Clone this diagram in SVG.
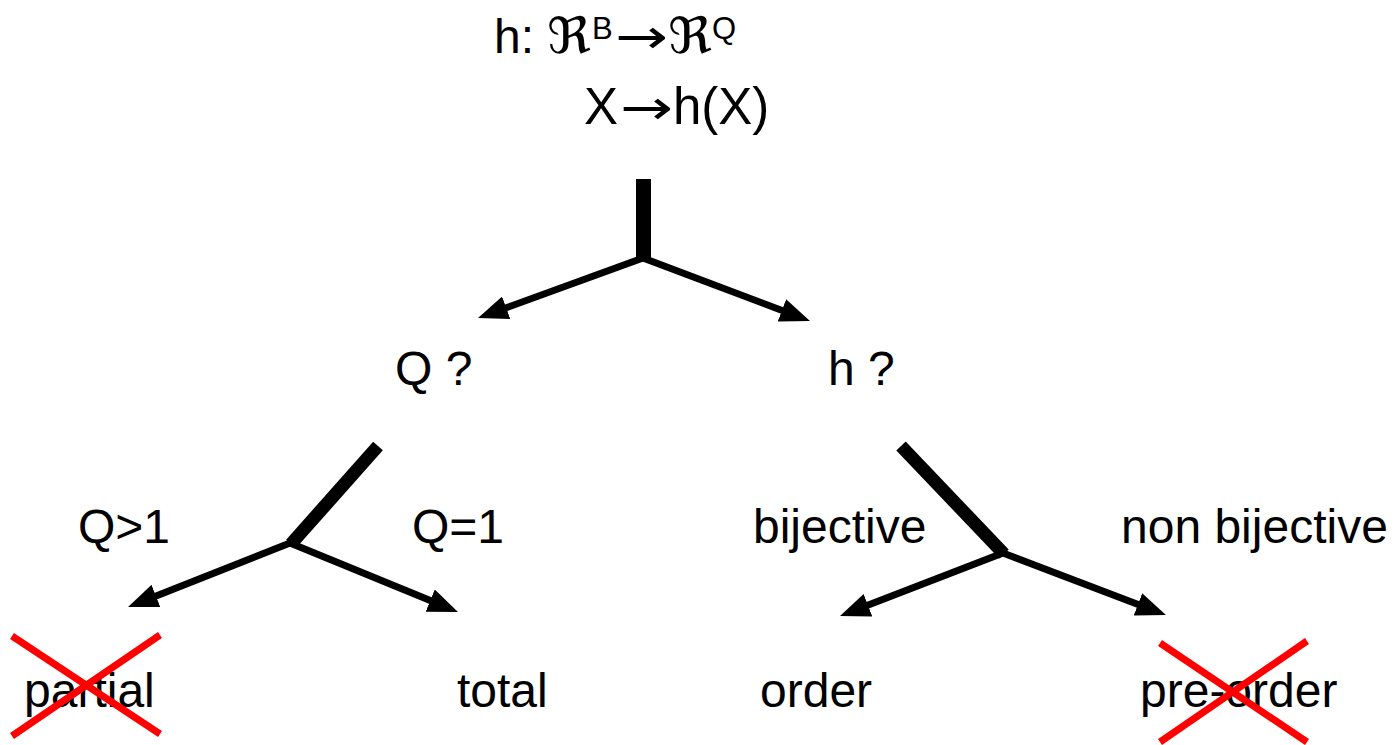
<svg xmlns="http://www.w3.org/2000/svg" width="1398" height="745" viewBox="0 0 1398 745">
<defs>
<style>
.t{font-family:"Liberation Sans",Arial,sans-serif;font-size:48px;fill:#000}
.t2{font-family:"Liberation Sans",Arial,sans-serif;font-size:51px;fill:#000}
.sup{font-family:"Liberation Sans",Arial,sans-serif;font-size:31px;fill:#000}
.frak{font-family:"DejaVu Serif","DejaVu Sans",serif;font-size:50px;fill:#000}
.ar{font-family:"DejaVu Sans",sans-serif;font-size:48px;fill:#000}
.arr{stroke:#000;stroke-width:7;fill:none;marker-end:url(#ah)}
.stem{stroke:#000;fill:none;stroke-linecap:butt}
.x{stroke:#ff0000;stroke-width:7;fill:none}
</style>
<marker id="ah" viewBox="0 0 30 24" markerWidth="30" markerHeight="24" refX="8" refY="12" orient="auto" markerUnits="userSpaceOnUse">
<path d="M0,0 L30,12 L0,24 z" fill="#000"/>
</marker>
</defs>
<g id="root">
<text class="t" x="494" y="53">h:</text>
<text class="frak" x="547" y="53" textLength="44" lengthAdjust="spacingAndGlyphs">ℜ</text>
<text class="sup" x="592" y="39">B</text>
<text class="ar" x="615" y="53" textLength="53" lengthAdjust="spacingAndGlyphs">→</text>
<text class="frak" x="668" y="53" textLength="44" lengthAdjust="spacingAndGlyphs">ℜ</text>
<text class="sup" x="712" y="39">Q</text>
<text class="t2" x="584" y="124">X</text>
<text class="ar" x="620" y="124" textLength="53" lengthAdjust="spacingAndGlyphs">→</text>
<text class="t2" x="673" y="124">h(X)</text>
</g>
<g id="q">
<text class="t" x="395" y="385">Q ?</text>
</g>
<g id="h">
<text class="t" x="828" y="385">h ?</text>
</g>
<g id="partial">
<text class="t" x="24" y="707">partial</text>
<line class="x" x1="12" y1="636" x2="160" y2="734"/>
<line class="x" x1="12" y1="736" x2="160" y2="635"/>
</g>
<g id="total">
<text class="t" x="457" y="707">total</text>
</g>
<g id="order">
<text class="t" x="760" y="707">order</text>
</g>
<g id="preorder">
<text class="t" x="1140" y="707">pre-order</text>
<line class="x" x1="1160" y1="643" x2="1307" y2="742"/>
<line class="x" x1="1160" y1="742" x2="1307" y2="641"/>
</g>
<g id="labels">
<text class="t" x="78" y="543">Q&gt;1</text>
<text class="t" x="412" y="543">Q=1</text>
<text class="t" x="753" y="543">bijective</text>
<text class="t" x="1121" y="543">non bijective</text>
</g>
<g id="connectors">
<line class="stem" x1="643.5" y1="179" x2="643.5" y2="260" stroke-width="15"/>
<line class="arr" x1="643" y1="258" x2="498.7" y2="310.5"/>
<line class="arr" x1="643" y1="258" x2="789.4" y2="313.2"/>
<line class="stem" x1="378" y1="446" x2="291" y2="544" stroke-width="13"/>
<line class="arr" x1="290" y1="543" x2="148.5" y2="598.9"/>
<line class="arr" x1="290" y1="543" x2="437.6" y2="603.6"/>
<line class="stem" x1="901" y1="446" x2="1004" y2="554" stroke-width="13"/>
<line class="arr" x1="1003" y1="553" x2="860.5" y2="608.1"/>
<line class="arr" x1="1003" y1="553" x2="1145.4" y2="607.2"/>
</g>
</svg>
